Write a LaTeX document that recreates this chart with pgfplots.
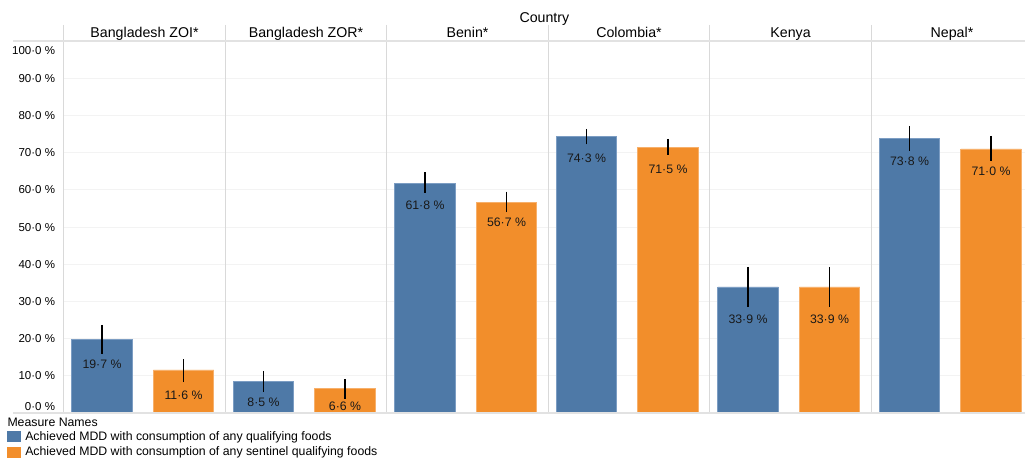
\documentclass[border=0pt]{standalone}
\usepackage{fontspec}
\setmainfont{Liberation Sans}
\usepackage{pgfplots}
\usepackage{pgfplotstable}
\pgfplotsset{compat=1.18}
\definecolor{tblue}{HTML}{4E79A7}
\definecolor{torange}{HTML}{F28E2B}
\definecolor{tblueedge}{HTML}{7C9DC3}
\definecolor{torangeedge}{HTML}{F7B06B}
\definecolor{sepgray}{HTML}{D9D9D9}
\definecolor{linegray}{HTML}{E2E2E2}
\definecolor{gridgray}{HTML}{F3F3F3}
\newcommand\yl[2]{\raisebox{#1}[0pt][0pt]{#2}}
\newcommand\fs[1]{\fontsize{#1}{#1}\selectfont}

% x = bar centre (panel i spans [i,i+1]); y = value; ep/em = error plus/minus; ly = label centre
\pgfplotstableread{
x      y    ep   em   ly
0.2368 19.7 4.0  3.9  13.2
1.2368 8.5  2.8  2.9  3.0
2.2368 61.8 2.9  2.6  55.9
3.2368 74.3 2.1  2.1  68.5
4.2368 33.9 5.4  5.3  25.3
5.2368 73.8 3.4  3.3  67.7
}\bluedata
\pgfplotstableread{
x      y    ep   em   ly
0.7415 11.6 2.9  3.3  4.8
1.7415 6.6  2.5  2.8  1.7
2.7415 56.7 2.8  2.7  51.4
3.7415 71.5 2.2  2.1  65.6
4.7415 33.9 5.4  5.3  25.3
5.7415 71.0 3.5  3.3  65.1
}\orangedata

\begin{document}
\begin{tikzpicture}
\path[use as bounding box] (0,0) rectangle (1025pt,463pt);
\begin{axis}[
  at={(63.8pt,50pt)}, anchor=south west,
  scale only axis, width=961.2pt, height=372pt,
  xmin=0, xmax=5.952, ymin=0, ymax=100,
  clip=false,
  axis x line*=top, axis y line*=left,
  axis line style={draw=none},
  xtick={0.5,1.5,2.5,3.5,4.5,5.5},
  xticklabels={Bangladesh ZOI*, Bangladesh ZOR*, Benin*, Colombia*, Kenya, Nepal*},
  xticklabel style={anchor=base, yshift=3.3pt, inner sep=0pt, font=\fs{14.2}},
  ytick={0,10,20,30,40,50,60,70,80,90,100},
  yticklabels={\yl{2.2pt}{0·0 \%},\yl{-4.1pt}{10·0 \%},\yl{-4.1pt}{20·0 \%},\yl{-4.1pt}{30·0 \%},\yl{-4.1pt}{40·0 \%},\yl{-4.1pt}{50·0 \%},\yl{-4.1pt}{60·0 \%},\yl{-4.1pt}{70·0 \%},\yl{-4.1pt}{80·0 \%},\yl{-4.1pt}{90·0 \%},\yl{-13.9pt}{100·0 \%}},
  yticklabel style={anchor=east, inner sep=0pt, xshift=-8.6pt, font=\fs{11.5}},
  major tick length=0pt,
  ymajorgrids, major grid style={gridgray, line width=0.8pt},
  legend style={at={(-0.0591,-0.043)}, anchor=north west, draw=none, fill=none,
    font=\fs{12.3}, inner sep=0pt, row sep=1.2pt, nodes={inner sep=2pt},
    cells={anchor=west}, /tikz/every odd column/.append style={column sep=3pt}},
]
\addplot[ybar, bar shift=0pt, bar width=0.3746, fill=tblue, draw=tblueedge, line width=0.6pt, forget plot,
  error bars/.cd, y dir=both, y explicit, error mark=none,
  error bar style={black, line width=1.6pt}]
  table[x=x, y=y, y error plus=ep, y error minus=em]{\bluedata};
\addplot[ybar, bar shift=0pt, bar width=0.3746, fill=torange, draw=torangeedge, line width=0.6pt, forget plot,
  error bars/.cd, y dir=both, y explicit, error mark=none,
  error bar style={black, line width=1.6pt}]
  table[x=x, y=y, y error plus=ep, y error minus=em]{\orangedata};
\addplot[draw=none, mark=none, forget plot, point meta=\thisrow{y},
  nodes near coords={\pgfmathprintnumber[fixed, fixed zerofill, precision=1, dec sep={·}, assume math mode=true]{\pgfplotspointmeta}~\%},
  nodes near coords align={center},
  every node near coord/.append style={font=\fs{12.3}, inner sep=0pt, text=black!90}]
  table[x=x, y=ly]{\bluedata};
\addplot[draw=none, mark=none, forget plot, point meta=\thisrow{y},
  nodes near coords={\pgfmathprintnumber[fixed, fixed zerofill, precision=1, dec sep={·}, assume math mode=true]{\pgfplotspointmeta}~\%},
  nodes near coords align={center},
  every node near coord/.append style={font=\fs{12.3}, inner sep=0pt, text=black!90}]
  table[x=x, y=ly]{\orangedata};
\addlegendimage{legend image code/.code={\fill[tblue] (0pt,-5.1pt) rectangle (12.7pt,5.2pt);}}
\addlegendentry{Achieved MDD with consumption of any qualifying foods}
\addlegendimage{legend image code/.code={\fill[torange] (0pt,-5.1pt) rectangle (12.7pt,5.2pt);}}
\addlegendentry{Achieved MDD with consumption of any sentinel qualifying foods}
\foreach \s in {0,1,2,3,4,5}{
  \edef\tmp{\noexpand\draw[sepgray, line width=0.9pt] ([yshift=16pt]axis cs:\s,100) -- (axis cs:\s,0);}
  \tmp
}
\draw[linegray, line width=1.1pt] ([xshift=-51pt]axis cs:0,100) -- (axis cs:5.952,100);
\draw[linegray, line width=1.1pt] ([xshift=-51pt]axis cs:0,0) -- (axis cs:5.952,0);
\node[anchor=base, inner sep=0pt, font=\fs{14.2}] at ([yshift=18.3pt]rel axis cs:0.5,1) {Country};
\node[anchor=base west, inner sep=0pt, font=\fs{12.3}] at ([xshift=-56.5pt, yshift=-13pt]rel axis cs:0,0) {Measure Names};
\end{axis}
\end{tikzpicture}
\end{document}
